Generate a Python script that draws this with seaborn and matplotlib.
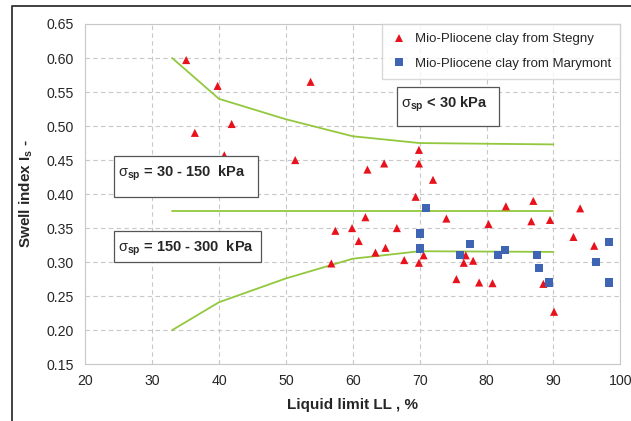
import pandas as pd
import matplotlib.pyplot as plt
import seaborn as sns
from matplotlib.patches import Rectangle
from matplotlib.lines import Line2D

# Stegny clay (red triangles)
stegny_ll = [35.1, 39.8, 36.4, 41.9, 53.7, 51.4, 40.8, 62.2, 64.7, 69.9, 69.9, 72.0,
             69.4, 61.9, 59.9, 60.9, 63.4, 64.9, 66.6, 67.7, 69.9, 70.6, 74.0, 75.5,
             76.6, 76.9, 78.0, 78.9, 80.3, 80.9, 82.9, 86.7, 87.0, 88.5, 89.5, 90.1,
             93.0, 94.0, 96.1, 57.4, 56.8]
stegny_is = [0.597, 0.559, 0.490, 0.503, 0.565, 0.450, 0.457, 0.436, 0.445, 0.465, 0.445, 0.421,
             0.396, 0.366, 0.350, 0.331, 0.314, 0.321, 0.350, 0.303, 0.299, 0.310, 0.364, 0.275,
             0.299, 0.310, 0.302, 0.270, 0.356, 0.269, 0.382, 0.360, 0.390, 0.268, 0.362, 0.227,
             0.337, 0.379, 0.324, 0.346, 0.298]

# Marymont clay (blue squares)
mary_ll = [70.9, 70.0, 70.1, 77.5, 76.1, 81.7, 82.8, 87.6, 87.8, 89.3, 96.4, 98.3, 98.3]
mary_is = [0.380, 0.342, 0.320, 0.327, 0.310, 0.310, 0.318, 0.310, 0.292, 0.270, 0.300, 0.330, 0.270]

# boundary lines between swelling pressure zones
upper_ll = [33, 40, 50, 60, 70, 90]
upper_is = [0.600, 0.540, 0.510, 0.485, 0.475, 0.473]
mid_ll = [33, 90]
mid_is = [0.375, 0.375]
lower_ll = [33, 40, 50, 60, 70, 90]
lower_is = [0.200, 0.241, 0.276, 0.305, 0.316, 0.315]

s_name = "Mio-Pliocene clay from Stegny"
m_name = "Mio-Pliocene clay from Marymont"

df = pd.DataFrame({
    "LL": stegny_ll + mary_ll,
    "Is": stegny_is + mary_is,
    "clay": [s_name] * len(stegny_ll) + [m_name] * len(mary_ll),
})

sns.set_style("white")
plt.rcParams["font.family"] = ["Liberation Sans", "DejaVu Sans"]
plt.rcParams["mathtext.fontset"] = "custom"
plt.rcParams["mathtext.rm"] = "Liberation Sans"
plt.rcParams["mathtext.it"] = "Liberation Sans"
plt.rcParams["mathtext.bf"] = "Liberation Sans:bold"

fig = plt.figure(figsize=(6.31, 4.21), dpi=100)
ax = fig.add_axes([0.135, 0.135, 0.848, 0.808])

green = "#93c83e"
for xs, ys in [(upper_ll, upper_is), (mid_ll, mid_is), (lower_ll, lower_is)]:
    sns.lineplot(x=xs, y=ys, ax=ax, color=green, linewidth=1.3, sort=False,
                 estimator=None, legend=False, zorder=2)

sns.scatterplot(data=df, x="LL", y="Is", hue="clay", style="clay",
                palette={s_name: "#e8121c", m_name: "#3f64b4"},
                markers={s_name: "^", m_name: "s"},
                s=34, linewidth=0, ax=ax, zorder=3)

ax.set_xlim(20, 100)
ax.set_ylim(0.15, 0.65)
ax.set_xticks(range(20, 101, 10))
ax.set_yticks([0.15 + 0.05 * i for i in range(11)])
ax.set_yticklabels([f"{0.15 + 0.05 * i:.2f}" for i in range(11)])
ax.grid(True, linestyle=(0, (4, 3)), color="#c8c8c8", linewidth=0.8)
for sp in ax.spines.values():
    sp.set_color("#c8c8c8")
ax.tick_params(labelsize=10.2, length=0)
ax.tick_params(axis="x", pad=7)
ax.tick_params(axis="y", pad=8)

ax.set_xlabel("Liquid limit LL , %", fontsize=11, fontweight="bold", labelpad=7)
ax.set_ylabel(r"Swell index I$_\mathbf{s}$ -", fontsize=11, fontweight="bold", labelpad=8)

leg = ax.legend(loc="upper right", fontsize=9.5, frameon=True, fancybox=False,
                borderaxespad=0, handletextpad=0.6, labelspacing=0.9,
                borderpad=0.7, handlelength=1.2, markerscale=0.9)
leg.get_frame().set_edgecolor("#d0d0d0")
leg.set_title(None)

# zone label boxes (axes fraction)
boxes = [
    (0.583, 0.700, 0.191, 0.115, r"$\sigma_{\mathbf{sp}}$ < 30 kPa"),
    (0.054, 0.491, 0.269, 0.121, r"$\sigma_{\mathbf{sp}}$ = 30 - 150  kPa"),
    (0.054, 0.300, 0.275, 0.091, r"$\sigma_{\mathbf{sp}}$ = 150 - 300  kPa"),
]
for x0, y0, w, h, txt in boxes:
    ax.add_patch(Rectangle((x0, y0), w, h, transform=ax.transAxes, facecolor="white",
                           edgecolor="#555555", linewidth=0.9, zorder=4))
    ax.text(x0 + 0.008, y0 + h - 0.022, txt, transform=ax.transAxes, fontsize=10.5,
            fontweight="bold", va="top", ha="left", zorder=5)

# outer frame (top and left edges only, as cropped in the source)
fig.lines.append(Line2D([0.019, 0.019, 1.0], [0.0, 0.985, 0.985], transform=fig.transFigure,
                        color="#333333", linewidth=1.3))

fig.savefig("out.png", dpi=100)
